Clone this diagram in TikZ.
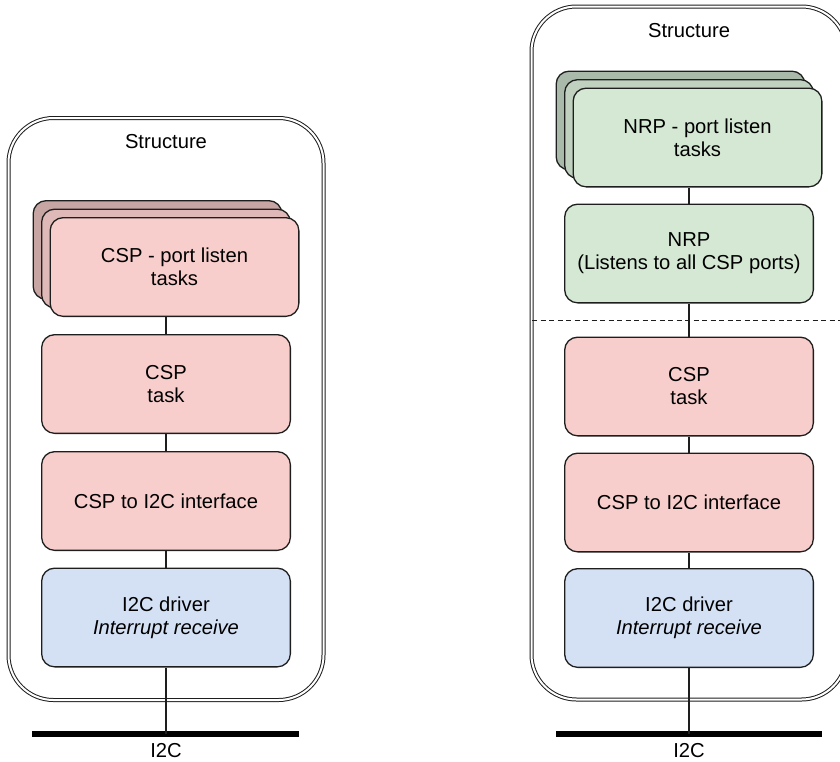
\documentclass[tikz,border=0pt]{standalone}
\usepackage{fontspec}
\setmainfont{Liberation Sans}
\definecolor{cspfill}{HTML}{F8CECC}
\definecolor{nrpfill}{HTML}{D5E8D4}
\definecolor{drvfill}{HTML}{D4E1F5}
\definecolor{edge}{HTML}{1E1E1E}
\tikzset{
  lbl/.style={font=\fontsize{20.2}{23}\selectfont, align=center},
  frame/.style={draw=edge, line width=1pt, double=white, double distance=2pt,
    rounded corners=45pt, minimum width=315pt, inner sep=0pt},
  block/.style={lbl, draw=edge, line width=1.3pt, rounded corners=13pt,
    minimum width=248.7pt, minimum height=98.7pt, inner sep=0pt},
  csp/.style={block, fill=cspfill},
  nrp/.style={block, fill=nrpfill},
  drv/.style={block, fill=drvfill},
  link/.style={draw=edge, line width=1.2pt},
  bus/.style={draw=black, line width=6pt},
}
\begin{document}
\begin{tikzpicture}[x=1pt, y=-1pt]
\useasboundingbox (0,0) rectangle (840,761);
\clip (0,0) rectangle (840,761);

% ---------- left stack: CSP only ----------
\node[frame, minimum height=582pt] (lframe) at (166,409) {};
\node[lbl] (ltitle) at (166,142) {Structure};

\node[block, fill=cspfill!80!black] (lback) at (157.5,250) {};
\node[block, fill=cspfill!90!black] (lmid) at (166,258.5) {};
\node[csp] (lports) at (174.5,267) {CSP - port listen\\tasks};
\node[csp] (ltask) at (166,384) {CSP\\task};
\node[csp] (liface) at (166,501) {CSP to I2C interface};
\node[drv] (ldrv) at (166,617.5) {I2C driver\\\textit{Interrupt receive}};

\coordinate (lbusL) at (32,734);
\coordinate (lbusR) at (299,734);
\coordinate (ltap) at (166,734);
\draw[bus] (lbusL) -- (lbusR);
\node[lbl] (lbusname) at (166,751) {I2C};

\draw[link] (ltask.north) -- (ltask.north |- lports.south);
\draw[link] (ltask.south) -- (liface.north);
\draw[link] (liface.south) -- (ldrv.north);
\draw[link] (ldrv.south) -- (ltap);

% ---------- right stack: NRP on top of CSP ----------
\node[frame, minimum height=693pt] (rframe) at (689,353) {};
\node[lbl] (rtitle) at (689,31) {Structure};

\node[block, fill=nrpfill!80!black] (rback) at (680.5,120.5) {};
\node[block, fill=nrpfill!90!black] (rmid) at (689,129) {};
\node[nrp] (rports) at (697.5,137.5) {NRP - port listen\\tasks};
\node[nrp] (rnrp) at (689,253.5) {NRP\\(Listens to all CSP ports)};

\coordinate (splitL) at (532,320);
\coordinate (splitR) at (842,320);
\draw[draw=edge, line width=1pt, dash pattern=on 5pt off 3.5pt] (splitL) -- (splitR);

\node[csp] (rtask) at (689,386.5) {CSP\\task};
\node[csp] (riface) at (689,502.5) {CSP to I2C interface};
\node[drv] (rdrv) at (689,618) {I2C driver\\\textit{Interrupt receive}};

\coordinate (rbusL) at (556,734);
\coordinate (rbusR) at (822,734);
\coordinate (rtap) at (689,734);
\draw[bus] (rbusL) -- (rbusR);
\node[lbl] (rbusname) at (689,751) {I2C};

\draw[link] (rnrp.north) -- (rnrp.north |- rports.south);
\draw[link] (rnrp.south) -- (rtask.north);
\draw[link] (rtask.south) -- (riface.north);
\draw[link] (riface.south) -- (rdrv.north);
\draw[link] (rdrv.south) -- (rtap);
\end{tikzpicture}
\end{document}
